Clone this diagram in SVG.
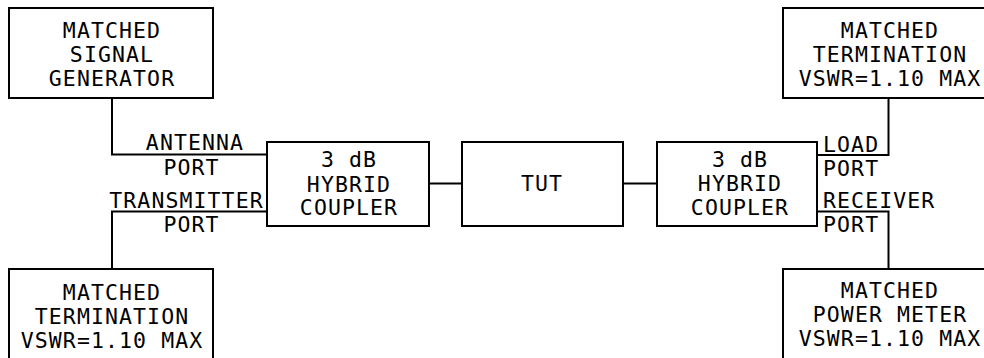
<svg xmlns="http://www.w3.org/2000/svg" width="984" height="358" viewBox="0 0 984 358">
<style>
.b{fill:#fff;stroke:#000;stroke-width:2}
.c{fill:none;stroke:#000;stroke-width:2}
text{font-family:"DejaVu Sans Mono","Liberation Mono",monospace;font-size:21.5px;letter-spacing:1.1px;fill:#000}
.m{text-anchor:middle}
</style>
<rect width="984" height="358" fill="#fff"/>
<g id="connectors">
<polyline class="c" points="112,98 112,154.5 267,154.5"/>
<polyline class="c" points="267,211.5 112,211.5 112,269"/>
<line class="c" x1="429" y1="183.5" x2="462" y2="183.5"/>
<line class="c" x1="623" y1="183.5" x2="657" y2="183.5"/>
<polyline class="c" points="817,155 888.5,155 888.5,98"/>
<polyline class="c" points="817,211.5 888.5,211.5 888.5,269"/>
</g>
<g id="signal-generator">
<rect class="b" x="9" y="8" width="204" height="90"/>
<text class="m" x="112" y="38">MATCHED</text>
<text class="m" x="112" y="62">SIGNAL</text>
<text class="m" x="112" y="86">GENERATOR</text>
</g>
<g id="termination-left">
<rect class="b" x="9" y="269" width="204" height="100"/>
<text class="m" x="112" y="300">MATCHED</text>
<text class="m" x="112" y="324">TERMINATION</text>
<text class="m" x="112" y="348">VSWR=1.10 MAX</text>
</g>
<g id="coupler-left">
<rect class="b" x="267" y="142" width="162" height="84"/>
<text class="m" x="349" y="167">3 dB</text>
<text class="m" x="349" y="191.5">HYBRID</text>
<text class="m" x="349" y="215">COUPLER</text>
</g>
<g id="tut">
<rect class="b" x="462" y="142" width="161" height="84"/>
<text class="m" x="542" y="191">TUT</text>
</g>
<g id="coupler-right">
<rect class="b" x="657" y="142" width="160" height="84"/>
<text class="m" x="740" y="167">3 dB</text>
<text class="m" x="740" y="191">HYBRID</text>
<text class="m" x="740" y="214.5">COUPLER</text>
</g>
<g id="termination-right">
<rect class="b" x="783" y="8" width="210" height="90"/>
<text class="m" x="890" y="38">MATCHED</text>
<text class="m" x="890" y="62">TERMINATION</text>
<text class="m" x="890" y="86">VSWR=1.10 MAX</text>
</g>
<g id="power-meter">
<rect class="b" x="783" y="269" width="210" height="100"/>
<text class="m" x="890" y="298">MATCHED</text>
<text class="m" x="890" y="322">POWER METER</text>
<text class="m" x="890" y="345.5">VSWR=1.10 MAX</text>
</g>
<g id="port-labels">
<text class="m" x="195" y="149.5">ANTENNA</text>
<text class="m" x="191.5" y="175">PORT</text>
<text class="m" x="186.5" y="207.5">TRANSMITTER</text>
<text class="m" x="191.5" y="232">PORT</text>
<text x="823" y="152">LOAD</text>
<text x="823" y="176">PORT</text>
<text x="823" y="207.5">RECEIVER</text>
<text x="823" y="232">PORT</text>
</g>
</svg>
